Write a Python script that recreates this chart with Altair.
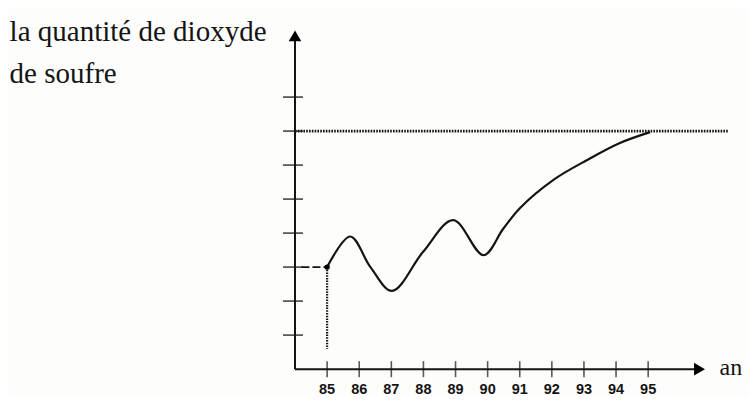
import altair as alt
import pandas as pd

# ---- data ----
curve_years = [85.0, 85.72, 86.35, 87.02, 87.99, 88.93,
               89.87, 90.48, 91.01, 92.04, 93.10, 94.12, 95.06]
curve_levels = [3.0, 3.90, 3.0, 2.30, 3.45, 4.38,
                3.35, 4.12, 4.74, 5.56, 6.15, 6.65, 6.97]
tick_years = [85, 86, 87, 88, 89, 90, 91, 92, 93, 94, 95]
tick_levels = [1, 2, 3, 4, 5, 6, 7, 8]
target_level = 7
start_year = 85
start_level = 3
origin_year = 84
x_end = 96.6
y_end = 9.8
dotted_end = 97.5
y_label_lines = ["la quantité de dioxyde", "de soufre"]
x_label = "an"

X_DOMAIN = [75.06, 98.11]
Y_DOMAIN = [-0.79, 10.62]

xs = alt.Scale(domain=X_DOMAIN, nice=False, zero=False)
ys = alt.Scale(domain=Y_DOMAIN, nice=False, zero=False)


def X(f="x"):
    return alt.X(f"{f}:Q", scale=xs, axis=None)


def Y(f="y"):
    return alt.Y(f"{f}:Q", scale=ys, axis=None)


INK = "#141414"

curve_df = pd.DataFrame({"x": curve_years, "y": curve_levels, "o": range(len(curve_years))})
curve = alt.Chart(curve_df).mark_line(color=INK, strokeWidth=2.2, interpolate="catmull-rom").encode(
    x=X(), y=Y(), order="o:Q")

# axes lines
axes_df = pd.DataFrame({"x": [origin_year, origin_year], "y": [0, 0],
                        "x2": [x_end, origin_year], "y2": [0, y_end]})
axes = alt.Chart(axes_df).mark_rule(color=INK, strokeWidth=2).encode(
    x=X(), y=Y(), x2="x2:Q", y2="y2:Q")

arrow_up = alt.Chart(pd.DataFrame({"x": [origin_year], "y": [y_end]})).mark_point(
    shape="triangle-up", filled=True, color="#000", size=160, opacity=1).encode(x=X(), y=Y())
arrow_right = alt.Chart(pd.DataFrame({"x": [x_end], "y": [0]})).mark_point(
    shape="triangle-right", filled=True, color="#000", size=160, opacity=1).encode(x=X(), y=Y())

xt_df = pd.DataFrame({"x": tick_years, "y": [0] * len(tick_years), "lab": [str(t) for t in tick_years]})
xticks = alt.Chart(xt_df).mark_tick(orient="vertical", size=16, thickness=1.6, color=INK).encode(
    x=X(), y=Y())
xlabels = alt.Chart(xt_df).mark_text(dy=25, baseline="alphabetic", font="Liberation Sans",
                                     fontSize=14.5, fontWeight="bold", color=INK).encode(
    x=X(), y=Y(), text="lab:N")

yt_df = pd.DataFrame({"x": [origin_year] * len(tick_levels), "y": tick_levels})
yticks = alt.Chart(yt_df).mark_tick(orient="horizontal", size=20, thickness=1.8, color=INK,
                                    xOffset=-2).encode(x=X(), y=Y())

dotted = alt.Chart(pd.DataFrame({"x": [origin_year], "x2": [dotted_end], "y": [target_level]})).mark_rule(
    color=INK, strokeWidth=2.6, strokeDash=[1.6, 1.2]).encode(x=X(), x2="x2:Q", y=Y())

dash_h = alt.Chart(pd.DataFrame({"x": [origin_year + 0.2], "x2": [start_year], "y": [start_level]})).mark_rule(
    color=INK, strokeWidth=1.8, strokeDash=[8, 3]).encode(x=X(), x2="x2:Q", y=Y())

dot_v = alt.Chart(pd.DataFrame({"x": [start_year], "y": [start_level], "y2": [0.6]})).mark_rule(
    color=INK, strokeWidth=2.2, strokeDash=[1.5, 1.2]).encode(x=X(), y=Y(), y2="y2:Q")

start_dot = alt.Chart(pd.DataFrame({"x": [start_year], "y": [start_level]})).mark_circle(
    color="#000", size=30, opacity=1).encode(x=X(), y=Y())

ylab_df = pd.DataFrame({"x": [X_DOMAIN[0] + 0.05] * 2, "y": [9.65, 8.4], "t": y_label_lines})
ylab = alt.Chart(ylab_df).mark_text(align="left", baseline="alphabetic", font="Liberation Serif",
                                    fontSize=29, color=INK).encode(x=X(), y=Y(), text="t:N")

xlab = alt.Chart(pd.DataFrame({"x": [x_end], "y": [0], "t": [x_label]})).mark_text(
    align="left", baseline="alphabetic", dx=20, dy=6, font="Liberation Serif", fontSize=24,
    color=INK).encode(x=X(), y=Y(), text="t:N")

chart = alt.layer(dotted, dash_h, dot_v, axes, xticks, yticks, curve, start_dot,
                  arrow_up, arrow_right, xlabels, ylab, xlab).properties(
    width=740, height=388, background="#fdfdfb", padding=0,
    autosize=alt.AutoSizeParams(type="none")
).configure_view(stroke=None)

chart.save("out.html", embed_options={"renderer": "svg", "actions": False})
